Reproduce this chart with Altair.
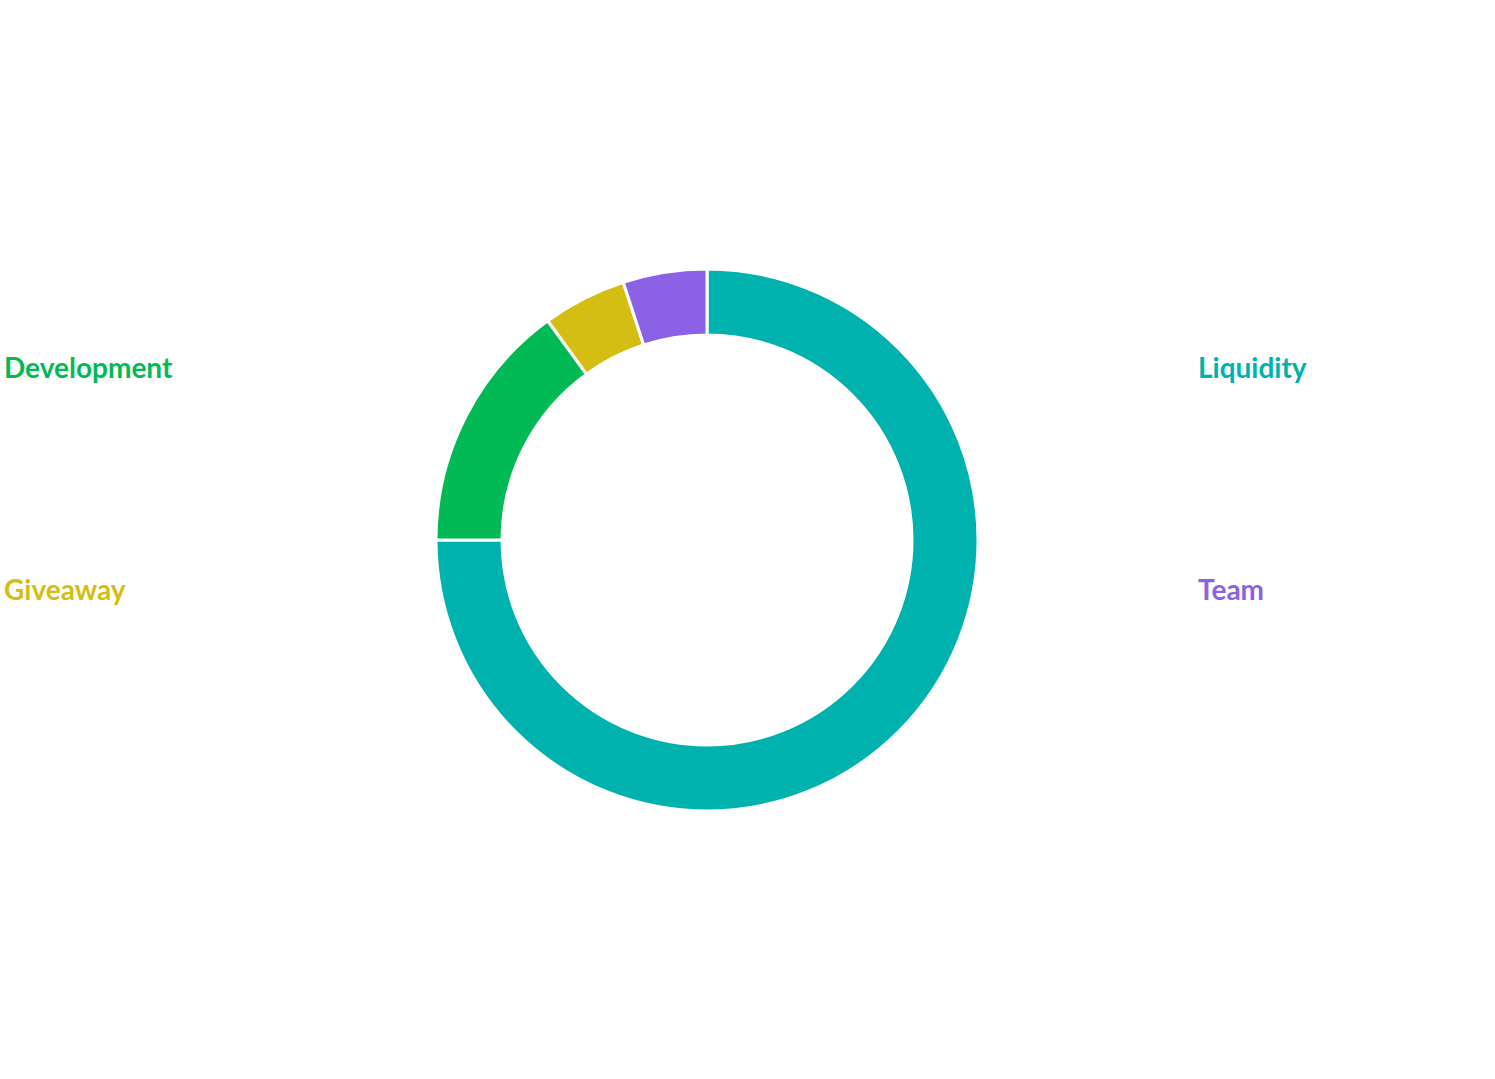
import altair as alt
import pandas as pd

categories = ["Liquidity", "Development", "Giveaway", "Team"]
shares = [75, 15, 5, 5]
colors = ["#00B2AE", "#02BA55", "#D4BE13", "#8B62E6"]
label_col = [1, 0, 0, 1]
label_row = [0, 0, 1, 1]

df = pd.DataFrame({
    "category": categories,
    "share": shares,
    "order": list(range(len(categories))),
    "col": label_col,
    "row": label_row,
})

color_scale = alt.Scale(domain=categories, range=colors)

arc = alt.Chart(df).mark_arc(
    outerRadius=271, innerRadius=205, stroke="white", strokeWidth=3
).encode(
    theta=alt.Theta("share:Q", stack=True),
    order=alt.Order("order:Q"),
    color=alt.Color("category:N", scale=color_scale, legend=None),
    x=alt.value(707),
    y=alt.value(540),
)

labels = alt.Chart(df).mark_text(
    align="left", baseline="middle", font="Lato", fontWeight="bold", fontSize=28
).encode(
    x=alt.X("col:Q", scale=alt.Scale(domain=[0, 1], range=[4, 1198]), axis=None),
    y=alt.Y("row:Q", scale=alt.Scale(domain=[0, 1], range=[370, 592]), axis=None),
    text="category:N",
    color=alt.Color("category:N", scale=color_scale, legend=None),
)

chart = alt.layer(arc, labels).properties(
    width=1495, height=1079, padding=0, autosize="none"
).configure_view(stroke=None)

chart.save("out.html", embed_options={"renderer": "svg", "actions": False})
